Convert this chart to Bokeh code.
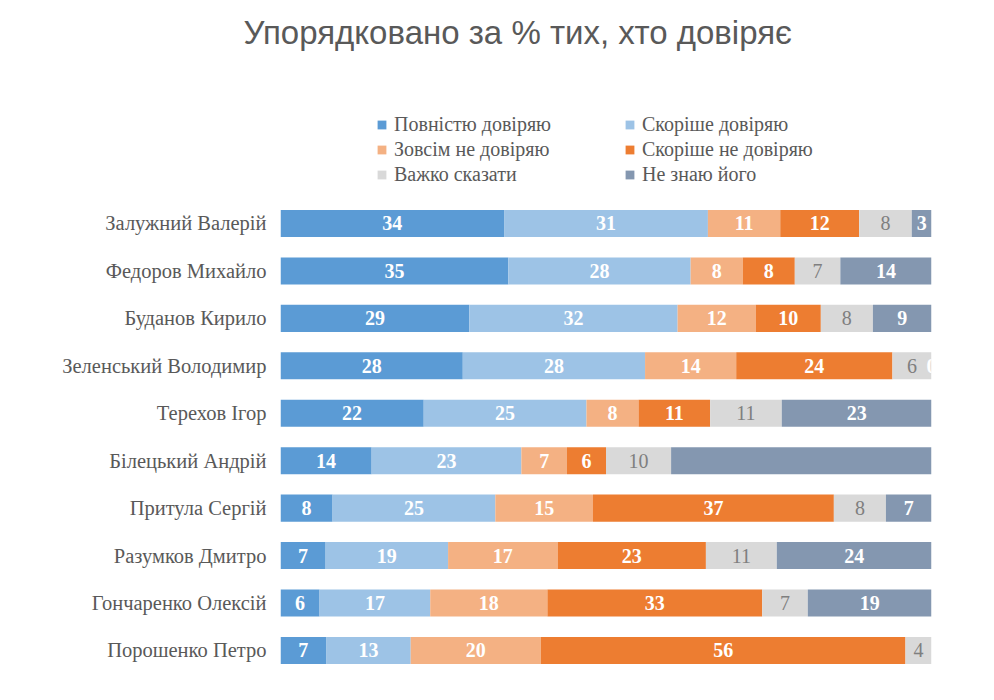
from bokeh.plotting import figure
from bokeh.models import ColumnDataSource, Range1d, FixedTicker, Legend, LegendItem
from bokeh.core.properties import value
from bokeh.embed import file_html
from bokeh.resources import INLINE

# data, top row first
names = ["Залужний Валерій", "Федоров Михайло", "Буданов Кирило", "Зеленський Володимир",
         "Терехов Ігор", "Білецький Андрій", "Притула Сергій", "Разумков Дмитро",
         "Гончаренко Олексій", "Порошенко Петро"]
full_trust = [34, 35, 29, 28, 22, 14, 8, 7, 6, 7]
rather_trust = [31, 28, 32, 28, 25, 23, 25, 19, 17, 13]
no_trust = [11, 8, 12, 14, 8, 7, 15, 17, 18, 20]
rather_no_trust = [12, 8, 10, 24, 11, 6, 37, 23, 33, 56]
hard_to_say = [8, 7, 8, 6, 11, 10, 8, 11, 7, 4]
dont_know = [3, 14, 9, 0, 23, 40, 7, 24, 19, 0]

series_names = ["Повністю довіряю", "Скоріше довіряю", "Зовсім не довіряю",
                "Скоріше не довіряю", "Важко сказати", "Не знаю його"]
series = [full_trust, rather_trust, no_trust, rather_no_trust, hard_to_say, dont_know]
colors = ["#5B9BD5", "#9DC3E6", "#F4B183", "#ED7D31", "#D9D9D9", "#8497B0"]
label_colors = ["white", "white", "white", "white", "#7F7F7F", "white"]
# labels that the original leaves out (series index, row index)
hidden_labels = {(5, 5), (5, 9)}

n = len(names)
ys = [n - 1 - i for i in range(n)]
totals = [sum(s[i] for s in series) for i in range(n)]

p = figure(width=978, height=684, x_range=Range1d(0, 100), y_range=Range1d(-0.717, 12.54),
           output_backend="svg", toolbar_location=None, x_axis_location=None,
           min_border_left=280, min_border_right=47, min_border_top=55, min_border_bottom=0)
p.outline_line_color = None
p.xgrid.visible = False
p.ygrid.visible = False

p.title.text = "Упорядковано за % тих, хто довіряє"
p.title.align = "left"
p.title.offset = -37
p.title.standoff = 9
p.title.text_font = "Liberation Sans"
p.title.text_font_size = "33px"
p.title.text_font_style = "normal"
p.title.text_color = "#595959"

# y axis with the names
p.yaxis.ticker = FixedTicker(ticks=ys)
p.yaxis.major_label_overrides = {y: name for y, name in zip(ys, names)}
p.yaxis.axis_line_color = None
p.yaxis.major_tick_line_color = None
p.yaxis.minor_tick_line_color = None
p.yaxis.major_label_standoff = 8
p.yaxis.major_label_text_font = "Liberation Serif"
p.yaxis.major_label_text_font_size = "20.5px"
p.yaxis.major_label_text_color = "#595959"

# stacked 100% bars
left = [0.0] * n
items = []
for k, (vals, name, col) in enumerate(zip(series, series_names, colors)):
    pct = [v / t * 100 for v, t in zip(vals, totals)]
    right = [l + v for l, v in zip(left, pct)]
    src = ColumnDataSource(data=dict(y=ys, left=left, right=right,
                                     mid=[(l + r) / 2 for l, r in zip(left, right)],
                                     txt=["" if (k, i) in hidden_labels else str(v)
                                          for i, v in enumerate(vals)]))
    r = p.hbar(y="y", left="left", right="right", height=0.57, color=col, line_color=None, source=src)
    p.text(x="mid", y="y", text="txt", source=src, text_align="center", text_baseline="middle",
           text_font=value("Liberation Serif"), text_font_size="20px",
           text_font_style="normal" if k == 4 else "bold", text_color=label_colors[k])
    items.append(LegendItem(label=name, renderers=[r]))
    left = right

legend = Legend(items=items, orientation="horizontal", ncols=2, location=(96, 498),
                border_line_color=None, background_fill_alpha=0, padding=0, margin=0,
                glyph_width=11, glyph_height=11, label_standoff=7, label_width=228, spacing=2,
                label_text_font="Liberation Serif", label_text_font_size="20px",
                label_text_color="#595959")
p.add_layout(legend)

open("out.html", "w").write(file_html(p, INLINE))
